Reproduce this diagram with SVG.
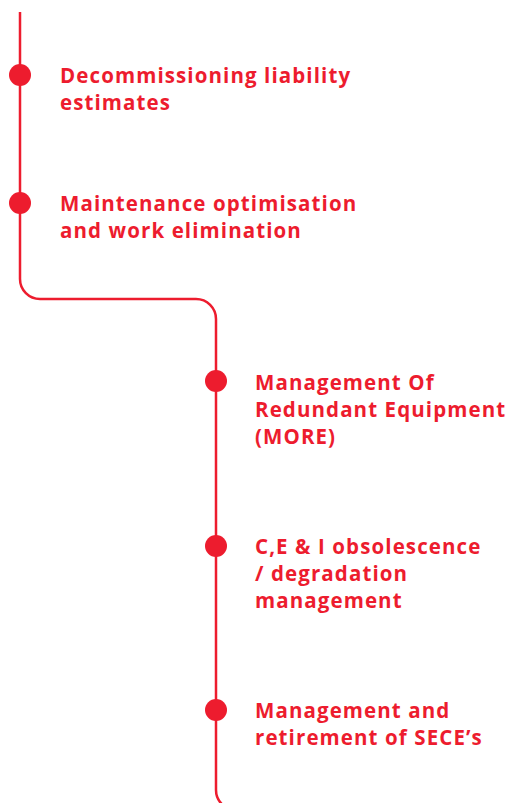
<svg xmlns="http://www.w3.org/2000/svg" width="507" height="803" viewBox="0 0 507 803">
<style>
.ln{fill:none;stroke:#ed1c2e;stroke-width:2.5}
.dot{fill:#ed1c2e}
.t{font-family:"Open Sans","Liberation Sans",sans-serif;font-weight:700;font-size:20.5px;letter-spacing:1.1px;fill:#ed1c2e}
</style>
<rect width="507" height="803" fill="#ffffff"/>
<g id="connectors">
<path class="ln" d="M20,12 V279 A20,20 0 0 0 40,299 H196 A20,20 0 0 1 216,319 V790 A20,20 0 0 0 236,810"/>
</g>
<g id="n1"><circle class="dot" cx="20" cy="75" r="11"/><text class="t" x="60" y="83">Decommissioning liability</text><text class="t" x="60" y="110">estimates</text></g>
<g id="n2"><circle class="dot" cx="20" cy="203" r="11"/><text class="t" x="60" y="211">Maintenance optimisation</text><text class="t" x="60" y="238">and work elimination</text></g>
<g id="n3"><circle class="dot" cx="216" cy="381" r="11"/><text class="t" x="255" y="390">Management Of</text><text class="t" x="255" y="417">Redundant Equipment</text><text class="t" x="255" y="444">(MORE)</text></g>
<g id="n4"><circle class="dot" cx="216" cy="546" r="11"/><text class="t" x="255" y="554">C,E &amp; I obsolescence</text><text class="t" x="255" y="581">/ degradation</text><text class="t" x="255" y="608">management</text></g>
<g id="n5"><circle class="dot" cx="216" cy="710" r="11"/><text class="t" x="255" y="718">Management and</text><text class="t" x="255" y="745">retirement of SECE’s</text></g>
</svg>
